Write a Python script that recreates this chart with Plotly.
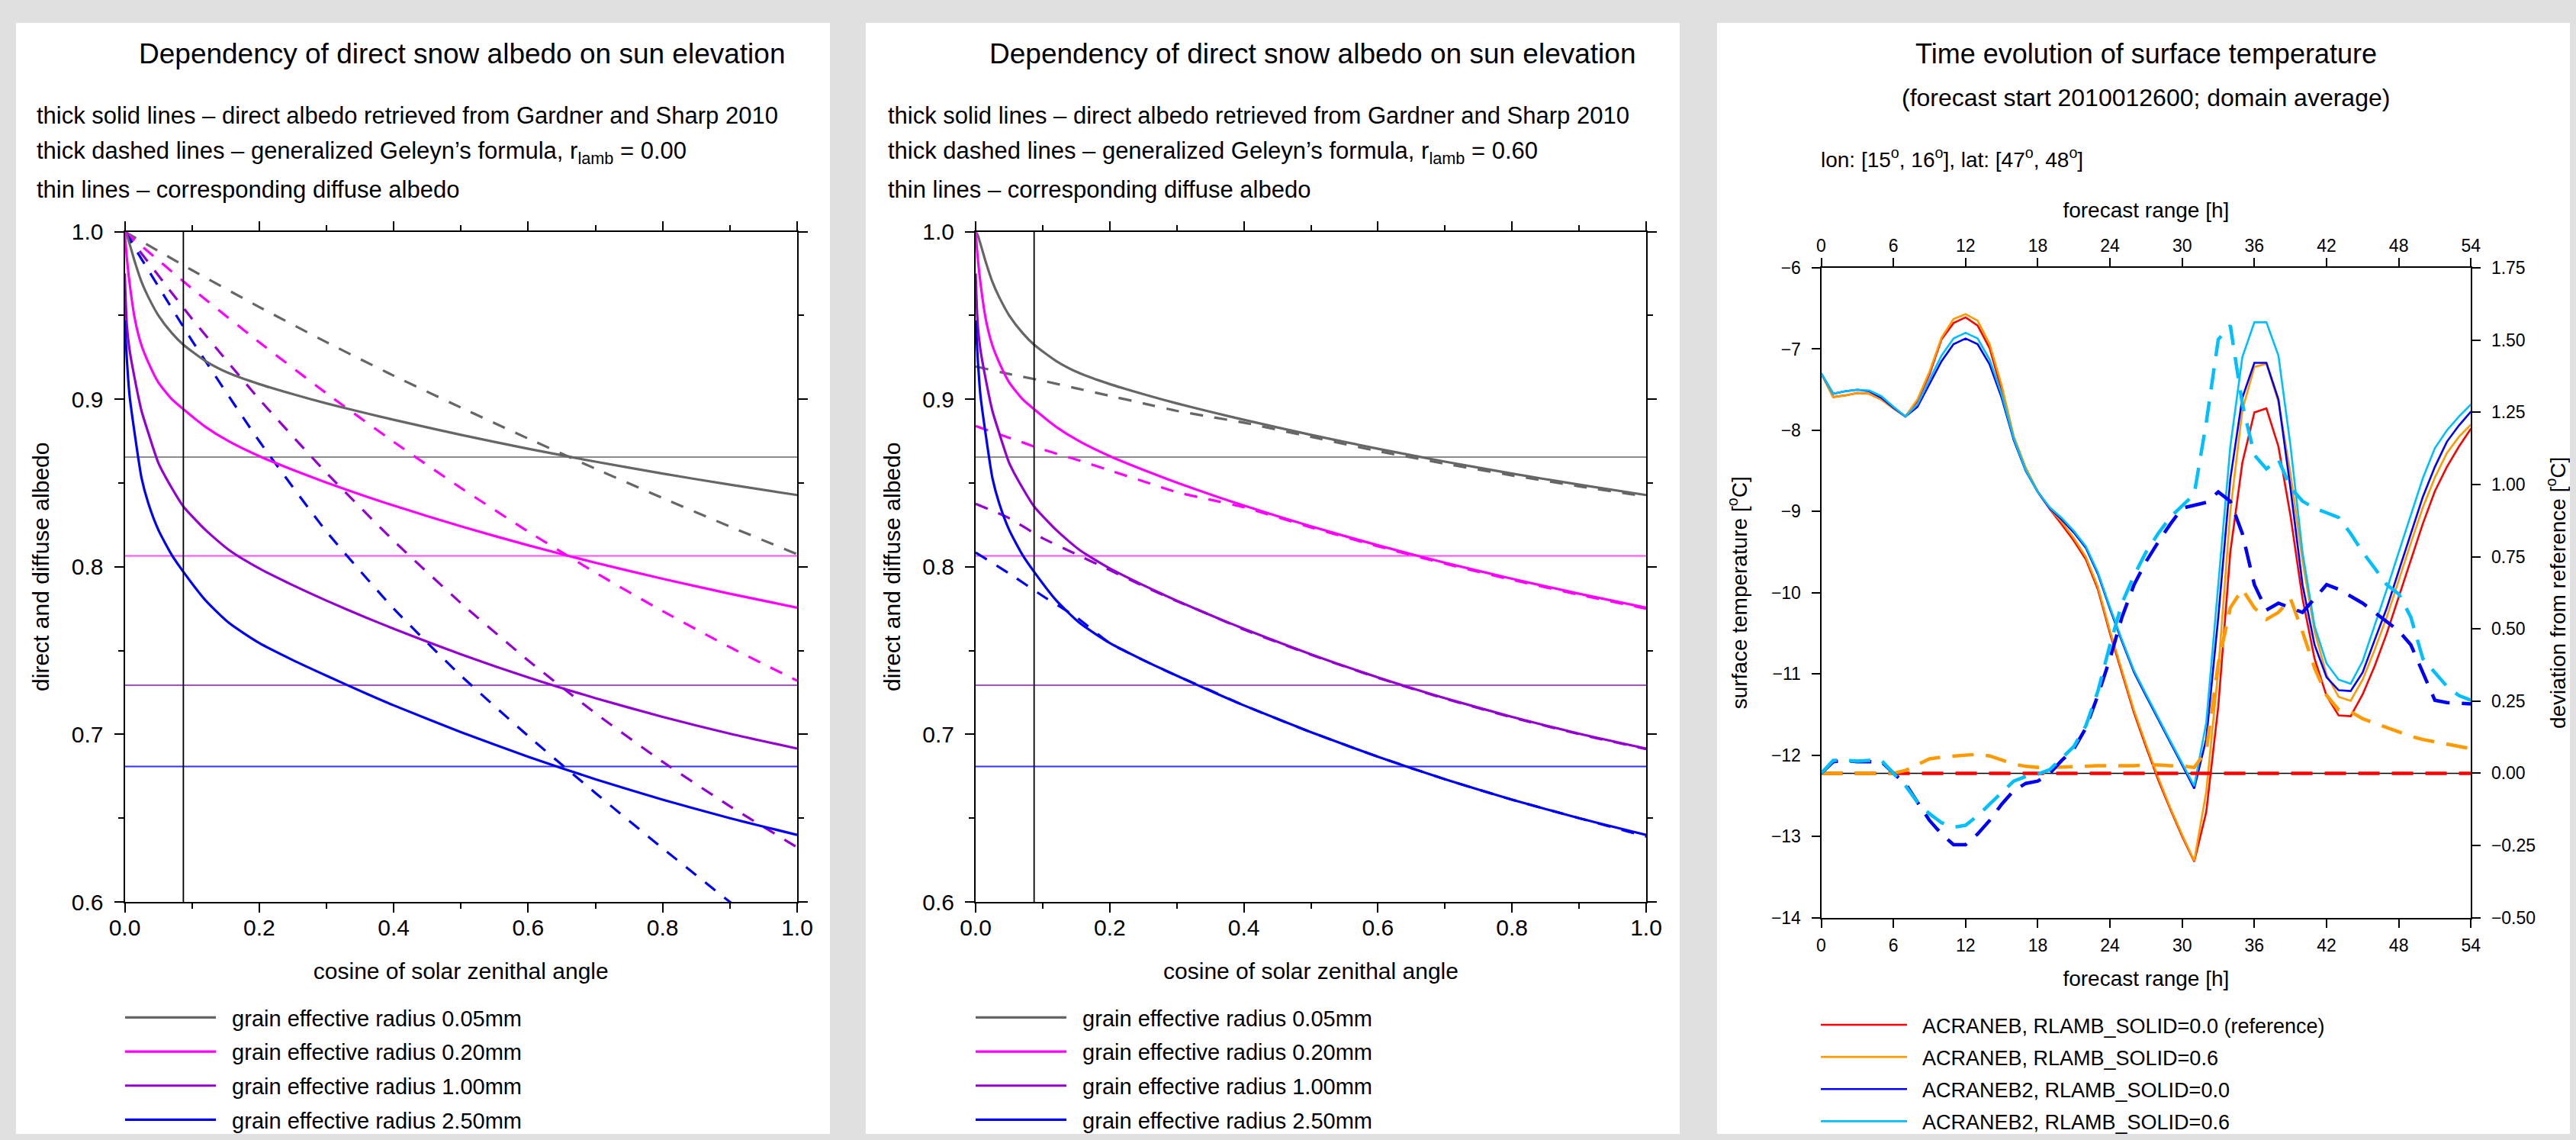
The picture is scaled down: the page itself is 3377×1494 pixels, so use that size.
import plotly.graph_objects as go

# page is 3377x1494; the browser body keeps an 8px margin, so the figure is 16px smaller
PAGE_W, PAGE_H, OFF = 3377, 1494, 8
FW, FH = PAGE_W - 2 * OFF, PAGE_H - 2 * OFF
FONT = "Liberation Sans"

# ---------------- Panels 1 & 2 : snow albedo ----------------
MU = [0, 0.003, 0.007, 0.015, 0.025, 0.035, 0.05, 0.07, 0.0872, 0.12, 0.155, 0.2,
      0.25, 0.3, 0.36, 0.4, 0.5, 0.6, 0.7, 0.8, 0.9, 1.0]
DIR_005 = [1.0, 0.998, 0.993, 0.982, 0.970, 0.961, 0.950, 0.9395, 0.9325, 0.9228, 0.9155, 0.909,
           0.903, 0.8975, 0.8915, 0.8877, 0.8787, 0.8704, 0.8627, 0.8556, 0.849, 0.8428]
DIR_020 = [1.0, 0.985, 0.970, 0.948, 0.932, 0.922, 0.910, 0.900, 0.894, 0.8835, 0.8748, 0.866,
           0.8578, 0.8502, 0.8418, 0.8365, 0.8241, 0.8128, 0.8024, 0.7928, 0.7839, 0.7756]
DIR_100 = [0.975, 0.945, 0.930, 0.912, 0.893, 0.880, 0.862, 0.847, 0.836, 0.822, 0.810, 0.799,
           0.789, 0.7798, 0.7695, 0.763, 0.7478, 0.734, 0.7216, 0.7104, 0.7004, 0.6915]
DIR_250 = [0.947, 0.925, 0.903, 0.879, 0.853, 0.838, 0.822, 0.807, 0.797, 0.780, 0.7665, 0.7545,
           0.7443, 0.735, 0.7242, 0.7173, 0.7013, 0.6866, 0.6732, 0.661, 0.650, 0.640]

# generalized Geleyn formula, r_lamb = 0.00
MU_G0 = [0, 0.1, 0.2, 0.3, 0.4, 0.5, 0.6, 0.7, 0.8, 0.9, 1.0]
GEL0_005 = [1.0, 0.977, 0.955, 0.934, 0.914, 0.895, 0.8765, 0.8585, 0.841, 0.824, 0.8075]
GEL0_020 = [1.0, 0.966, 0.934, 0.9035, 0.8745, 0.847, 0.821, 0.7965, 0.7735, 0.752, 0.732]
GEL0_100 = [1.0, 0.948, 0.900, 0.856, 0.8155, 0.7783, 0.7441, 0.7126, 0.6836, 0.6571, 0.6326]
GEL0_250 = [1.0, 0.935, 0.875, 0.821, 0.775, 0.735, 0.699, 0.665, 0.632, 0.600, 0.569]

# generalized Geleyn formula, r_lamb = 0.60
MU_G6 = [0, 0.05, 0.1, 0.15, 0.2, 0.25, 0.3, 0.35, 0.4, 0.5, 0.6, 0.7, 0.8, 0.9, 1.0]
GEL6_005 = [0.9195, 0.915, 0.911, 0.9065, 0.902, 0.8975, 0.893, 0.8895, 0.886, 0.8775, 0.869,
            0.8615, 0.8545, 0.848, 0.842]
GEL6_020 = [0.884, 0.877, 0.870, 0.864, 0.8575, 0.851, 0.8445, 0.840, 0.8355, 0.8235, 0.8122,
            0.8018, 0.7922, 0.7833, 0.775]
GEL6_100 = [0.8376, 0.829, 0.817, 0.8075, 0.798, 0.7885, 0.7795, 0.7712, 0.7625, 0.7475, 0.7337,
            0.7213, 0.7101, 0.7001, 0.6912]
GEL6_250 = [0.8085, 0.796, 0.7826, 0.770, 0.7545, 0.7443, 0.735, 0.7262, 0.7173, 0.7013, 0.6866,
            0.6732, 0.661, 0.650, 0.639]

DIFFUSE = [0.8655, 0.8065, 0.7293, 0.6808]
MU_SUN5 = 0.0872
GRAIN_LABELS = ["grain effective radius 0.05mm", "grain effective radius 0.20mm",
                "grain effective radius 1.00mm", "grain effective radius 2.50mm"]
GRAIN_COLORS = ["#666666", "#ff00ff", "#9400d3", "#0000ff"]
DIFF_COLORS = ["#8c8c8c", "#ff4dff", "#a84fd0", "#3030ff"]
ALB_X_RANGE = [0.0, 1.0]
ALB_Y_RANGE = [0.6, 1.0]

# ---------------- Panel 3 : surface temperature ----------------
HOURS = list(range(55))
T_REF = [-7.30, -7.59, -7.57, -7.54, -7.55, -7.62, -7.73, -7.83, -7.64, -7.31,
         -6.88, -6.68, -6.61, -6.71, -6.99, -7.51, -8.11, -8.48, -8.76, -8.97,
         -9.16, -9.36, -9.59, -9.96, -10.50, -11.00, -11.48, -11.90, -12.30, -12.66,
         -13.00, -13.31, -12.70, -11.40, -9.50, -8.40, -7.78, -7.73, -8.20, -9.05,
         -10.07, -10.81, -11.27, -11.51, -11.52, -11.25, -10.90, -10.50, -10.05, -9.60,
         -9.15, -8.75, -8.45, -8.20, -7.98]
T_RL06 = [-7.30, -7.59, -7.57, -7.54, -7.55, -7.62, -7.73, -7.83, -7.62, -7.28,
          -6.86, -6.63, -6.57, -6.65, -6.94, -7.45, -8.07, -8.46, -8.75, -8.96,
          -9.13, -9.33, -9.56, -9.93, -10.47, -10.97, -11.45, -11.87, -12.27, -12.64,
          -12.98, -13.30, -12.45, -10.95, -9.00, -7.75, -7.22, -7.18, -7.65, -8.53,
          -9.61, -10.47, -11.01, -11.28, -11.33, -11.07, -10.70, -10.30, -9.84, -9.39,
          -8.95, -8.58, -8.28, -8.08, -7.93]
T_B2 = [-7.30, -7.55, -7.52, -7.50, -7.52, -7.60, -7.72, -7.83, -7.71, -7.43,
        -7.15, -6.94, -6.87, -6.94, -7.19, -7.60, -8.12, -8.50, -8.76, -8.96,
        -9.10, -9.26, -9.45, -9.77, -10.20, -10.60, -10.98, -11.27, -11.56, -11.84,
        -12.12, -12.41, -11.80, -10.30, -8.60, -7.60, -7.17, -7.17, -7.62, -8.71,
        -9.90, -10.64, -11.04, -11.20, -11.21, -10.98, -10.58, -10.19, -9.73, -9.27,
        -8.82, -8.45, -8.14, -7.94, -7.77]
T_B2_RL06 = [-7.30, -7.55, -7.52, -7.50, -7.51, -7.58, -7.71, -7.83, -7.68, -7.38,
             -7.08, -6.87, -6.80, -6.87, -7.13, -7.56, -8.10, -8.49, -8.76, -8.95,
             -9.08, -9.24, -9.43, -9.75, -10.18, -10.58, -10.96, -11.25, -11.54, -11.82,
             -12.10, -12.38, -11.60, -9.90, -8.20, -7.10, -6.67, -6.67, -7.08, -8.19,
             -9.50, -10.41, -10.87, -11.07, -11.12, -10.84, -10.41, -9.96, -9.50, -9.05,
             -8.59, -8.22, -8.00, -7.83, -7.68]
DEV_REF = [0.0, 0.0, 0.0, 0.0, 0.0, 0.0, 0.0, 0.0, 0.0, 0.0, 0.0, 0.0, 0.0, 0.0,
           0.0, 0.0, 0.0, 0.0, 0.0, 0.0, 0.0, 0.0, 0.0, 0.0, 0.0, 0.0, 0.0, 0.0,
           0.0, 0.0, 0.0, 0.0, 0.0, 0.0, 0.0, 0.0, 0.0, 0.0, 0.0, 0.0, 0.0, 0.0,
           0.0, 0.0, 0.0, 0.0, 0.0, 0.0, 0.0, 0.0, 0.0, 0.0, 0.0, 0.0, 0.0]
DEV_RL06 = [0.0, 0.0, 0.0, 0.0, 0.0, 0.0, 0.0, 0.01, 0.03, 0.05,
            0.056, 0.06, 0.064, 0.066, 0.06, 0.045, 0.032, 0.024, 0.02, 0.02,
            0.022, 0.022, 0.026, 0.026, 0.026, 0.026, 0.026, 0.029, 0.029, 0.026,
            0.026, 0.02, 0.077, 0.38, 0.573, 0.637, 0.573, 0.533, 0.557, 0.605,
            0.49, 0.365, 0.27, 0.22, 0.213, 0.189, 0.173, 0.157, 0.141, 0.128,
            0.117, 0.109, 0.1, 0.093, 0.085]
DEV_B2 = [0.0, 0.04, 0.045, 0.04, 0.04, 0.04, 0.0, -0.035, -0.1, -0.163,
          -0.21, -0.247, -0.247, -0.21, -0.163, -0.107, -0.06, -0.035, -0.027, 0.0,
          0.045, 0.085, 0.157, 0.27, 0.397, 0.541, 0.653, 0.733, 0.8, 0.862,
          0.918, 0.929, 0.938, 0.974, 0.942, 0.83, 0.653, 0.565, 0.589, 0.573,
          0.557, 0.605, 0.653, 0.637, 0.613, 0.589, 0.557, 0.525, 0.493, 0.445,
          0.349, 0.253, 0.245, 0.242, 0.24]
DEV_B2_RL06 = [0.0, 0.045, 0.045, 0.042, 0.045, 0.045, 0.0, -0.043, -0.1, -0.14,
               -0.171, -0.187, -0.18, -0.147, -0.107, -0.067, -0.027, -0.011, -0.003, 0.013,
               0.053, 0.093, 0.165, 0.285, 0.445, 0.589, 0.685, 0.766, 0.83, 0.886,
               0.926, 0.966, 1.214, 1.502, 1.55, 1.278, 1.102, 1.054, 1.086, 0.99,
               0.942, 0.918, 0.902, 0.886, 0.83, 0.766, 0.71, 0.653, 0.621, 0.541,
               0.397, 0.349, 0.301, 0.269, 0.253]
RUN_LABELS = ["ACRANEB, RLAMB_SOLID=0.0 (reference)", "ACRANEB, RLAMB_SOLID=0.6",
              "ACRANEB2, RLAMB_SOLID=0.0", "ACRANEB2, RLAMB_SOLID=0.6"]
RUN_COLORS = ["#ff0000", "#ff9a00", "#0000ff", "#00bfff"]
T_RANGE = [-14, -6]
DEV_RANGE = [-0.5, 1.75]
H_RANGE = [0, 54]


# ---------------- helpers (page pixel -> paper fraction) ----------------
def px_x(p):
    return (p - OFF) / FW


def px_y(p):
    return 1 - (p - OFF) / FH


fig = go.Figure()

# white panels on grey page
for x0, x1 in [(21, 1088), (1135, 2202), (2251, 3377)]:
    fig.add_shape(type="rect", xref="paper", yref="paper", x0=px_x(x0), x1=min(1, px_x(x1)),
                  y0=0, y1=px_y(30), fillcolor="white", line_width=0, layer="below")

direct = [DIR_005, DIR_020, DIR_100, DIR_250]
gel0 = [GEL0_005, GEL0_020, GEL0_100, GEL0_250]
gel6 = [GEL6_005, GEL6_020, GEL6_100, GEL6_250]
PAD = "\u00a0\u00a0"

for xa, ya, gel, mug, leg in [("x", "y", gel0, MU_G0, "legend"),
                              ("x2", "y2", gel6, MU_G6, "legend2")]:
    for d, c in zip(DIFFUSE, DIFF_COLORS):
        fig.add_trace(go.Scatter(x=ALB_X_RANGE, y=[d, d], mode="lines", xaxis=xa, yaxis=ya,
                                 line=dict(color=c, width=2), showlegend=False,
                                 hoverinfo="skip"))
    for vals, c in zip(gel, GRAIN_COLORS):
        fig.add_trace(go.Scatter(x=mug, y=vals, mode="lines", xaxis=xa, yaxis=ya,
                                 line=dict(color=c, width=3.2, dash="17px,15px",
                                           shape="spline", smoothing=0.5),
                                 showlegend=False))
    for vals, c, lab in zip(direct, GRAIN_COLORS, GRAIN_LABELS):
        fig.add_trace(go.Scatter(x=MU, y=vals, mode="lines", xaxis=xa, yaxis=ya,
                                 line=dict(color=c, width=3.2, shape="spline", smoothing=0.6),
                                 name=PAD + lab, legend=leg, legendgroup=lab + leg))
    # vertical line: sun elevation 5 degrees
    fig.add_shape(type="line", xref=xa, yref=ya + " domain", x0=MU_SUN5, x1=MU_SUN5,
                  y0=0, y1=1, line=dict(color="black", width=1.8))

# panel 3
fig.add_shape(type="line", xref="x3 domain", yref="y4", x0=0, x1=1, y0=0, y1=0,
              line=dict(color="black", width=1.5), layer="below")
for vals, c, lab in zip([T_REF, T_RL06, T_B2, T_B2_RL06], RUN_COLORS, RUN_LABELS):
    fig.add_trace(go.Scatter(x=HOURS, y=vals, mode="lines", xaxis="x3", yaxis="y3",
                             line=dict(color=c, width=2.6), name=PAD + lab, legend="legend3",
                             legendgroup=lab))
for vals, c in zip([DEV_REF, DEV_RL06, DEV_B2, DEV_B2_RL06], RUN_COLORS):
    fig.add_trace(go.Scatter(x=HOURS, y=vals, mode="lines", xaxis="x3", yaxis="y4",
                             line=dict(color=c, width=4.5, dash="28px,16px"),
                             showlegend=False))
# invisible trace on the top axis so that it is drawn
fig.add_trace(go.Scatter(x=H_RANGE, y=T_RANGE, xaxis="x4", yaxis="y3", mode="lines",
                         line=dict(width=0), showlegend=False, hoverinfo="skip", opacity=0))

# ---------------- axes ----------------
ax_common = dict(showline=True, linecolor="black", linewidth=2, mirror="allticks",
                 ticks="outside", ticklen=12, tickwidth=2, tickcolor="black",
                 showgrid=False, zeroline=False, automargin=False,
                 tickfont=dict(family=FONT, size=30, color="black"))
P12_Y = [px_y(1182), px_y(303.5)]
for xa, ya, dom, anc_x, anc_y in [("xaxis", "yaxis", [px_x(163.5), px_x(1045)], "y", "x"),
                                  ("xaxis2", "yaxis2", [px_x(1279), px_x(2158)], "y2", "x2")]:
    fig.update_layout(**{
        xa: dict(ax_common, domain=dom, anchor=anc_x, range=ALB_X_RANGE, dtick=0.2,
                 tickformat=".1f", ticklabelstandoff=-6,
                 minor=dict(dtick=0.1, ticklen=7, tickwidth=2, tickcolor="black", ticks="outside"),
                 title=dict(text="cosine of solar zenithal angle", standoff=31,
                            font=dict(family=FONT, size=30, color="black"))),
        ya: dict(ax_common, domain=P12_Y, anchor=anc_y, range=ALB_Y_RANGE, dtick=0.1,
                 tickformat=".1f", ticklabelstandoff=8,
                 minor=dict(dtick=0.05, ticklen=7, tickwidth=2, tickcolor="black", ticks="outside"),
                 title=dict(text="direct and diffuse albedo", standoff=20,
                            font=dict(family=FONT, size=30, color="black"))),
    })

ax3 = dict(showline=True, linecolor="black", linewidth=2, ticks="outside", ticklen=11,
           tickwidth=1.5, tickcolor="black", showgrid=False, zeroline=False, automargin=False,
           tickfont=dict(family=FONT, size=23, color="black"))
P3_X = [px_x(2387.5), px_x(3239.3)]
P3_Y = [px_y(1202.7), px_y(351)]
fig.update_layout(
    xaxis3=dict(ax3, domain=P3_X, anchor="y3", range=H_RANGE, dtick=6, ticklabelstandoff=4,
                title=dict(text="forecast range [h]", standoff=21,
                           font=dict(family=FONT, size=28, color="black"))),
    xaxis4=dict(ax3, overlaying="x3", side="top", anchor="y3", range=H_RANGE, dtick=6,
                ticklabelstandoff=-1,
                title=dict(text="forecast range [h]", standoff=15,
                           font=dict(family=FONT, size=28, color="black"))),
    yaxis3=dict(ax3, domain=P3_Y, anchor="x3", range=T_RANGE, dtick=1, ticklabelstandoff=9,
                title=dict(text="surface temperature [<sup>o</sup>C]", standoff=23,
                           font=dict(family=FONT, size=28, color="black"))),
    yaxis4=dict(ax3, overlaying="y3", side="right", anchor="x3", range=DEV_RANGE, dtick=0.25,
                tickformat=".2f", ticklabelstandoff=9,
                title=dict(text="deviation from reference [<sup>o</sup>C]", standoff=24,
                           font=dict(family=FONT, size=28, color="black"))),
)

# ---------------- legends ----------------
leg_common = dict(xanchor="left", yanchor="top", bgcolor="rgba(0,0,0,0)",
                  traceorder="grouped", itemclick=False, itemdoubleclick=False)
fig.update_layout(
    legend=dict(leg_common, x=px_x(159), y=px_y(1308), itemwidth=119, tracegroupgap=4,
                font=dict(family=FONT, size=29, color="black")),
    legend2=dict(leg_common, x=px_x(1274), y=px_y(1308), itemwidth=119, tracegroupgap=4,
                 font=dict(family=FONT, size=29, color="black")),
    legend3=dict(leg_common, x=px_x(2382), y=px_y(1319), itemwidth=113, tracegroupgap=4,
                 font=dict(family=FONT, size=27, color="black")),
)


# ---------------- texts ----------------
def txt(x, y, s, size, xanchor="left"):
    fig.add_annotation(x=px_x(x), y=px_y(y), xref="paper", yref="paper", text=s,
                       showarrow=False, xanchor=xanchor, yanchor="middle",
                       font=dict(family=FONT, size=size, color="black"))


TITLE_ALB = "Dependency of direct snow albedo on sun elevation"
txt(605, 70, TITLE_ALB, 37, "center")
txt(1720, 70, TITLE_ALB, 37, "center")
for x0, rl in [(46, "0.00"), (1162, "0.60")]:
    txt(x0, 152, "thick solid lines \u2013 direct albedo retrieved from Gardner and Sharp 2010", 31)
    txt(x0, 200, "thick dashed lines \u2013 generalized Geleyn\u2019s formula, r<sub>lamb</sub> = " + rl, 31)
    txt(x0, 248, "thin lines \u2013 corresponding diffuse albedo", 31)
txt(2813, 70, "Time evolution of surface temperature", 36, "center")
txt(2813, 128, "(forecast start 2010012600; domain average)", 32, "center")
txt(2385, 207, "lon: [15<sup>o</sup>, 16<sup>o</sup>], lat: [47<sup>o</sup>, 48<sup>o</sup>]", 28)

fig.update_layout(width=FW, height=FH,
                  margin=dict(l=0, r=0, t=0, b=0, pad=0, autoexpand=False),
                  paper_bgcolor="#e0e0e0", plot_bgcolor="rgba(0,0,0,0)",
                  font=dict(family=FONT, color="black"), hovermode=False)

fig.write_html("out.html", config={"displayModeBar": False},
               post_script="document.body.style.background='#e0e0e0';")
